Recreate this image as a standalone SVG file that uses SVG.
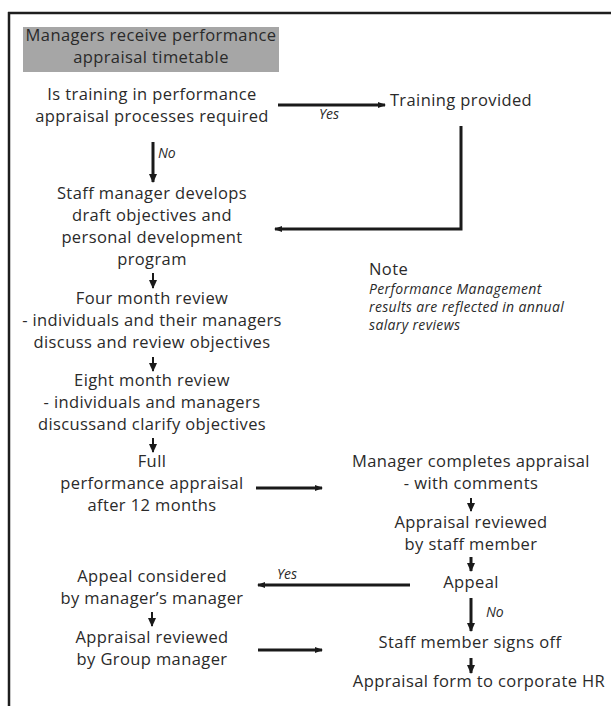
<svg xmlns="http://www.w3.org/2000/svg" width="611" height="706" viewBox="0 0 611 706">
  <style>
    text { font-family: "Open Sans", "Liberation Sans", sans-serif; font-size: 16.5px; fill: #2a2a2a; text-anchor: middle; letter-spacing: 0.4px; }
    .lbl { font-style: italic; font-size: 14px; text-anchor: start; letter-spacing: 0; }
    .note { text-anchor: start; }
    .noteb { font-style: italic; font-size: 14px; text-anchor: start; letter-spacing: 0.35px; }
    .big { stroke: #1a1a1a; stroke-width: 3; fill: none; }
    .small { stroke: #1a1a1a; stroke-width: 2; fill: none; }
  </style>
  <defs>
    <marker id="ah" markerWidth="8" markerHeight="8" refX="7" refY="4" orient="auto" markerUnits="userSpaceOnUse">
      <path d="M0,1 L8,4 L0,7 Z" fill="#1a1a1a"/>
    </marker>
    <marker id="ahs" markerWidth="9" markerHeight="9" refX="8" refY="4.5" orient="auto" markerUnits="userSpaceOnUse">
      <path d="M0,0.5 L9,4.5 L0,8.5 Z" fill="#1a1a1a"/>
    </marker>
  </defs>

  <rect width="611" height="706" fill="#ffffff"/>

  <!-- frame -->
  <g id="frame" stroke="#1e1e1e" stroke-width="2.5" fill="none">
    <line x1="9" y1="12" x2="9" y2="706"/>
    <line x1="8" y1="13" x2="611" y2="13"/>
  </g>

  <g id="n-start">
    <rect x="23" y="27" width="256" height="45" fill="#a6a6a6"/>
    <text x="151" y="41">Managers receive performance</text>
    <text x="151" y="63">appraisal timetable</text>
  </g>

  <g id="n-training-q">
    <text x="152" y="100">Is training in performance</text>
    <text x="152" y="122">appraisal processes required</text>
  </g>

  <g id="n-training">
    <text x="461" y="106">Training provided</text>
  </g>

  <g id="n-draft">
    <text x="152" y="199">Staff manager develops</text>
    <text x="152" y="221">draft objectives and</text>
    <text x="152" y="243">personal development</text>
    <text x="152" y="265">program</text>
  </g>

  <g id="n-note">
    <text class="note" x="369" y="275">Note</text>
    <text class="noteb" x="369" y="294">Performance Management</text>
    <text class="noteb" x="369" y="312">results are reflected in annual</text>
    <text class="noteb" x="369" y="330">salary reviews</text>
  </g>

  <g id="n-four">
    <text x="152" y="304">Four month review</text>
    <text x="152" y="326">- individuals and their managers</text>
    <text x="152" y="348">discuss and review objectives</text>
  </g>

  <g id="n-eight">
    <text x="152" y="386">Eight month review</text>
    <text x="152" y="408">- individuals and managers</text>
    <text x="152" y="430">discussand clarify objectives</text>
  </g>

  <g id="n-full">
    <text x="152" y="467">Full</text>
    <text x="152" y="489">performance appraisal</text>
    <text x="152" y="511">after 12 months</text>
  </g>

  <g id="n-completes">
    <text x="471" y="467">Manager completes appraisal</text>
    <text x="471" y="489">- with comments</text>
  </g>

  <g id="n-reviewed-staff">
    <text x="471" y="528">Appraisal reviewed</text>
    <text x="471" y="550">by staff member</text>
  </g>

  <g id="n-appeal">
    <text x="471" y="588">Appeal</text>
  </g>

  <g id="n-appeal-considered">
    <text x="152" y="582">Appeal considered</text>
    <text x="152" y="604">by manager’s manager</text>
  </g>

  <g id="n-group">
    <text x="152" y="643">Appraisal reviewed</text>
    <text x="152" y="665">by Group manager</text>
  </g>

  <g id="n-signs">
    <text x="470" y="648">Staff member signs off</text>
  </g>

  <g id="n-hr">
    <text x="479" y="687">Appraisal form to corporate HR</text>
  </g>

  <!-- connectors -->
  <g id="connectors">
    <line class="big" x1="278" y1="105" x2="385" y2="105" marker-end="url(#ah)"/>
    <text class="lbl" x="319" y="119">Yes</text>

    <polyline class="big" points="461,126 461,229 275,229" marker-end="url(#ah)"/>

    <line class="big" x1="153" y1="142" x2="153" y2="182" marker-end="url(#ahs)"/>
    <text class="lbl" x="158" y="158">No</text>

    <line class="small" x1="153" y1="273" x2="153" y2="288" marker-end="url(#ahs)"/>
    <line class="small" x1="153" y1="357" x2="153" y2="371" marker-end="url(#ahs)"/>
    <line class="small" x1="153" y1="438" x2="153" y2="452" marker-end="url(#ahs)"/>

    <line class="big" x1="256" y1="488" x2="322" y2="488" marker-end="url(#ah)"/>

    <line class="small" x1="471" y1="498" x2="471" y2="511" marker-end="url(#ahs)"/>
    <line class="big" x1="471" y1="557" x2="471" y2="571" marker-end="url(#ahs)"/>

    <line class="big" x1="410" y1="585" x2="258" y2="585" marker-end="url(#ah)"/>
    <text class="lbl" x="277" y="579">Yes</text>

    <line class="big" x1="471" y1="598" x2="471" y2="631" marker-end="url(#ahs)"/>
    <text class="lbl" x="486" y="617">No</text>

    <line class="small" x1="152" y1="612" x2="152" y2="626" marker-end="url(#ahs)"/>

    <line class="big" x1="258" y1="650" x2="322" y2="650" marker-end="url(#ah)"/>

    <line class="big" x1="471" y1="658" x2="471" y2="673" marker-end="url(#ahs)"/>
  </g>
</svg>
